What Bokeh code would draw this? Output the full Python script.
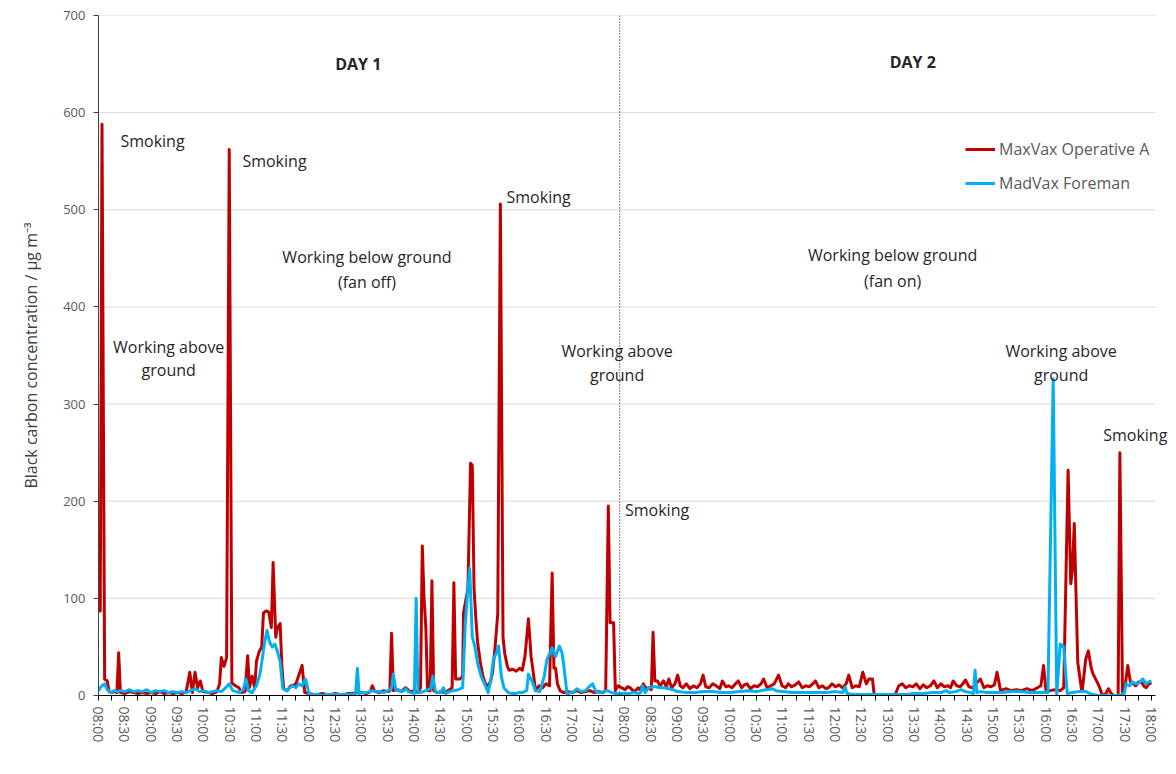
from bokeh.plotting import figure
from bokeh.models import Range1d, FixedTicker, Span, Label, Legend, LegendItem, ColumnDataSource
from bokeh.embed import file_html
from bokeh.resources import INLINE

# ---------------- data ----------------
# time ticks (every 30 minutes) for the two measurement days
day1_tick_labels = ["08:00", "08:30", "09:00", "09:30", "10:00", "10:30", "11:00", "11:30",
                    "12:00", "12:30", "13:00", "13:30", "14:00", "14:30", "15:00", "15:30",
                    "16:00", "16:30", "17:00", "17:30"]
day2_tick_labels = ["08:00", "08:30", "09:00", "09:30", "10:00", "10:30", "11:00", "11:30",
                    "12:00", "12:30", "13:00", "13:30", "14:00", "14:30", "15:00", "15:30",
                    "16:00", "16:30", "17:00", "17:30", "18:00"]
day2_offset = 600  # axis index (minutes) where day 2 begins
day_divider = 594
axis_end = 1204.5

# (minutes after 08:00, black carbon µg m-3)
operative_a_day1 = [
    (0, 87), (2, 87), (4, 588), (7, 17), (10, 15), (12, 4), (15, 3), (18, 4), (21, 3), (23, 44),
    (25, 3), (30, 2), (35, 4), (40, 3), (45, 2), (50, 3), (55, 2), (60, 3), (65, 2), (70, 4),
    (75, 2), (80, 3), (85, 2), (90, 3), (95, 2), (100, 4), (104, 24), (107, 3), (110, 24), (113, 8),
    (116, 15), (119, 4), (125, 3), (130, 2), (135, 4), (138, 12), (140, 39), (143, 30), (146, 39),
    (149, 562), (152, 13), (156, 10), (160, 8), (163, 3), (167, 4), (170, 41), (172, 8), (175, 20),
    (178, 8), (180, 35), (183, 45), (186, 50), (188, 85), (191, 87), (194, 86), (197, 70), (199, 137),
    (202, 60), (204, 70), (207, 74), (209, 30), (211, 7), (215, 5), (219, 10), (221, 10), (225, 12),
    (228, 20), (232, 31), (235, 3), (240, 2), (245, 1), (250, 1), (255, 2), (260, 1), (265, 1),
    (270, 2), (275, 1), (280, 1), (285, 2), (290, 2), (295, 3), (300, 3), (305, 2), (310, 4),
    (312, 10), (315, 4), (320, 3), (325, 5), (330, 4), (332, 5), (334, 64), (336, 5), (340, 6),
    (345, 4), (350, 8), (355, 4), (360, 5), (364, 3), (367, 8), (369, 154), (371, 100), (373, 71),
    (375, 5), (378, 5), (380, 118), (382, 5), (386, 3), (390, 4), (395, 3), (400, 6), (403, 8),
    (405, 116), (407, 17), (412, 17), (415, 20), (416, 85), (419, 100), (421, 110), (424, 239),
    (426, 237), (428, 110), (430, 80), (432, 55), (435, 35), (438, 20), (441, 12), (444, 10),
    (447, 15), (449, 23), (452, 50), (455, 84), (458, 506), (461, 60), (463, 43), (466, 30),
    (468, 26), (472, 27), (476, 25), (480, 28), (483, 26), (486, 40), (490, 79), (493, 40),
    (496, 20), (498, 5), (502, 10), (506, 8), (510, 12), (514, 10), (517, 126), (519, 28),
    (521, 28), (523, 12), (526, 5), (530, 3), (535, 4), (540, 3), (545, 5), (550, 3), (555, 4),
    (560, 5), (565, 3), (570, 4), (575, 3), (578, 5), (581, 195), (583, 75), (587, 75), (589, 5),
    (592, 10),
]
operative_a_day2 = [
    (0, 6), (3, 9), (6, 8), (9, 5), (12, 5), (15, 8), (17, 6), (21, 12), (24, 7), (27, 8), (30, 6),
    (32, 65), (34, 15), (37, 15), (40, 10), (44, 15), (47, 9), (50, 17), (53, 8), (57, 12), (60, 21),
    (63, 10), (66, 8), (70, 12), (74, 7), (78, 10), (82, 8), (86, 12), (89, 21), (92, 9), (96, 8),
    (100, 12), (104, 10), (108, 7), (111, 15), (115, 9), (118, 10), (122, 8), (126, 12), (129, 15),
    (133, 8), (136, 11), (139, 12), (143, 7), (147, 10), (151, 9), (155, 12), (158, 17), (162, 8),
    (166, 10), (170, 12), (175, 21), (179, 10), (183, 8), (186, 12), (190, 9), (194, 11), (198, 14),
    (202, 8), (206, 10), (210, 9), (214, 12), (217, 15), (221, 8), (225, 10), (229, 7), (232, 8),
    (236, 12), (240, 9), (244, 11), (248, 8), (252, 12), (255, 21), (259, 8), (263, 10), (267, 9),
    (271, 24), (275, 12), (278, 17), (282, 17), (284, 1), (290, 0), (296, 1), (302, 0), (308, 1),
    (312, 10), (316, 12), (320, 8), (324, 10), (328, 9), (332, 12), (336, 7), (340, 11), (344, 8),
    (348, 10), (352, 15), (356, 8), (360, 12), (364, 9), (368, 10), (371, 8), (374, 15), (378, 10),
    (382, 9), (385, 12), (388, 16), (392, 9), (396, 8), (400, 12), (405, 17), (409, 8), (413, 10),
    (417, 9), (421, 11), (424, 24), (428, 5), (434, 7), (440, 5), (446, 6), (452, 5), (458, 7),
    (464, 5), (470, 8), (474, 10), (477, 31), (480, 3), (484, 5), (490, 6), (496, 5), (500, 8),
    (505, 232), (508, 115), (510, 130), (512, 177), (516, 34), (520, 8), (521, 4), (525, 37),
    (528, 46), (531, 30), (533, 23), (538, 14), (541, 8), (544, 0), (548, 2), (551, 7), (554, 2),
    (557, 0), (562, 0), (564, 250), (567, 2), (570, 10), (573, 31), (576, 14), (579, 12), (582, 10),
    (585, 14), (589, 13), (592, 9), (594, 8), (597, 12), (600, 13),
]
foreman_day1 = [
    (0, 5), (2, 8), (4, 10), (7, 12), (10, 6), (14, 3), (18, 5), (22, 4), (26, 5), (30, 4), (35, 6),
    (40, 4), (45, 5), (50, 4), (55, 6), (60, 3), (65, 5), (70, 4), (75, 5), (80, 3), (85, 4), (90, 3),
    (95, 4), (100, 3), (105, 5), (110, 7), (115, 4), (120, 5), (125, 3), (130, 4), (135, 5), (140, 4),
    (145, 8), (149, 12), (153, 5), (157, 4), (160, 3), (165, 6), (168, 17), (171, 5), (175, 3),
    (180, 10), (184, 22), (187, 40), (189, 53), (192, 67), (195, 55), (198, 50), (201, 53), (204, 45),
    (207, 35), (210, 7), (215, 5), (218, 8), (221, 10), (225, 8), (228, 12), (232, 10), (236, 17),
    (240, 1), (245, 1), (250, 1), (255, 0), (260, 1), (265, 1), (270, 1), (275, 1), (280, 1), (285, 1),
    (290, 1), (293, 2), (295, 28), (297, 2), (301, 3), (305, 3), (309, 4), (312, 5), (316, 4),
    (320, 4), (325, 3), (330, 5), (334, 8), (336, 22), (339, 5), (342, 6), (345, 4), (348, 5),
    (350, 7), (353, 4), (356, 3), (360, 2), (362, 100), (364, 3), (367, 3), (370, 4), (373, 5),
    (376, 6), (379, 8), (381, 20), (384, 4), (387, 3), (390, 3), (393, 8), (396, 2), (400, 4),
    (405, 5), (410, 6), (415, 8), (418, 74), (421, 110), (423, 131), (426, 60), (429, 50), (432, 33),
    (436, 20), (441, 10), (444, 3), (447, 15), (450, 37), (454, 45), (456, 51), (459, 20), (462, 8),
    (467, 3), (471, 2), (475, 2), (479, 3), (483, 3), (488, 5), (490, 22), (494, 15), (498, 5),
    (503, 4), (508, 20), (511, 37), (515, 45), (517, 49), (521, 40), (525, 51), (528, 45), (530, 33),
    (534, 1), (538, 3), (542, 4), (545, 7), (550, 4), (555, 5), (558, 8), (563, 12), (567, 4),
    (572, 3), (576, 4), (580, 5), (585, 3), (589, 2), (592, 2),
]
foreman_day2 = [
    (0, 2), (5, 2), (10, 3), (15, 2), (18, 3), (20, 10), (23, 3), (27, 8), (31, 9), (35, 9), (40, 8),
    (45, 8), (50, 7), (55, 6), (60, 4), (70, 3), (80, 3), (90, 4), (100, 4), (110, 3), (120, 3),
    (130, 4), (140, 5), (150, 4), (160, 6), (164, 6), (168, 7), (172, 5), (180, 4), (190, 3),
    (200, 3), (210, 3), (220, 3), (230, 3), (240, 4), (248, 3), (251, 9), (253, 2), (260, 1),
    (270, 1), (280, 1), (290, 1), (300, 1), (310, 1), (320, 1), (330, 2), (340, 2), (350, 3),
    (360, 3), (366, 5), (370, 3), (377, 4), (383, 6), (388, 4), (394, 3), (397, 2), (399, 26),
    (401, 3), (406, 4), (412, 3), (420, 3), (430, 3), (440, 4), (450, 4), (460, 3), (470, 3),
    (478, 3), (482, 3), (488, 326), (492, 1), (496, 53), (500, 50), (504, 2), (510, 3), (517, 4),
    (525, 4), (533, 1), (540, 0), (550, 0), (560, 0), (566, 1), (569, 2), (571, 12), (575, 10),
    (578, 14), (582, 12), (586, 13), (590, 17), (594, 12), (597, 14), (600, 15),
]

y_ticks = [0, 100, 200, 300, 400, 500, 600, 700]


def series(day1, day2):
    xs = [t for t, _ in day1] + [t + day2_offset for t, _ in day2]
    ys = [v for _, v in day1] + [v for _, v in day2]
    return ColumnDataSource(dict(x=xs, y=ys))


FONT = "Open Sans"
RED = "#C00000"
BLUE = "#00B0F0"
TXT = "#262626"
GREY = "#595959"

p = figure(width=1168, height=766, x_range=Range1d(0, 1219.4), y_range=Range1d(0, 700),
           output_backend="svg", toolbar_location=None,
           min_border_left=98, min_border_right=0, min_border_top=15, min_border_bottom=71)
p.outline_line_color = None
p.background_fill_color = "white"
p.border_fill_color = "white"

# horizontal gridlines limited to the time axis extent
p.segment(x0=[0] * len(y_ticks), x1=[axis_end] * len(y_ticks), y0=y_ticks, y1=y_ticks,
          line_color="#d9d9d9", line_width=1)

r_red = p.line("x", "y", source=series(operative_a_day1, operative_a_day2),
               line_color=RED, line_width=3, line_join="round")
r_blue = p.line("x", "y", source=series(foreman_day1, foreman_day2),
                line_color=BLUE, line_width=3, line_join="round")

# x axis ticks
tick_labels = day1_tick_labels + day2_tick_labels
major = [30 * i for i in range(len(day1_tick_labels))] + \
        [day2_offset + 30 * i for i in range(len(day2_tick_labels))]
minor = [m + 15 for m in major[:-1]]
p.xaxis.ticker = FixedTicker(ticks=major, minor_ticks=minor)
p.xaxis.bounds = (0, axis_end)
p.xaxis.major_label_overrides = {m: lab for m, lab in zip(major, tick_labels)}
p.xaxis.major_label_orientation = "vertical"
p.xaxis.major_label_text_font = FONT
p.xaxis.major_label_text_font_size = "14px"
p.xaxis.major_label_text_color = GREY
p.xaxis.axis_line_color = "black"
p.xaxis.major_tick_line_color = "black"
p.xaxis.minor_tick_line_color = "black"
p.xaxis.major_tick_in = 0
p.xaxis.major_tick_out = 5
p.xaxis.minor_tick_in = 0
p.xaxis.minor_tick_out = 5
p.xaxis.major_label_standoff = 6

p.yaxis.ticker = FixedTicker(ticks=y_ticks)
p.yaxis.major_label_text_font = FONT
p.yaxis.major_label_text_font_size = "13px"
p.yaxis.major_label_text_color = GREY
p.yaxis.axis_line_color = "#404040"
p.yaxis.major_tick_line_color = "#404040"
p.yaxis.major_tick_in = 0
p.yaxis.major_tick_out = 5
p.yaxis.minor_tick_line_color = None
p.yaxis.major_label_standoff = 8
p.yaxis.axis_label = "Black carbon concentration / µg m⁻³"
p.yaxis.axis_label_text_font = FONT
p.yaxis.axis_label_text_font_size = "16px"
p.yaxis.axis_label_text_font_style = "normal"
p.yaxis.axis_label_text_color = "#404040"
p.yaxis.axis_label_standoff = 18

p.xgrid.visible = False
p.ygrid.visible = False

p.add_layout(Span(location=day_divider, dimension="height", line_color="black",
                  line_dash="1 2", line_width=1))

annotations = [
    ("DAY 1", 296, 650, "center", "bold"),
    ("DAY 2", 928, 652, "center", "bold"),
    ("Smoking", 25, 571, "left", "normal"),
    ("Smoking", 164, 550, "left", "normal"),
    ("Smoking", 465, 513, "left", "normal"),
    ("Smoking", 1145, 268, "left", "normal"),
    ("Smoking", 600, 191, "left", "normal"),
    ("Working below ground", 306, 451, "center", "normal"),
    ("(fan off)", 306, 426, "center", "normal"),
    ("Working below ground", 905, 453, "center", "normal"),
    ("(fan on)", 905, 427, "center", "normal"),
    ("Working above", 80, 359, "center", "normal"),
    ("ground", 80, 335, "center", "normal"),
    ("Working above", 591, 355, "center", "normal"),
    ("ground", 591, 330, "center", "normal"),
    ("Working above", 1097, 355, "center", "normal"),
    ("ground", 1097, 330, "center", "normal"),
]
for text, ax, ay, align, style in annotations:
    p.add_layout(Label(x=ax, y=ay, text=text, text_font=FONT, text_font_size="16px",
                       text_color=TXT, text_align=align, text_baseline="middle",
                       text_font_style=style))

legend = Legend(items=[LegendItem(label="MaxVax Operative A", renderers=[r_red]),
                       LegendItem(label="MadVax Foreman", renderers=[r_blue])],
                location=(867, 501), padding=0, margin=0, spacing=12,
                glyph_width=30, glyph_height=20, label_height=20, label_standoff=4,
                label_text_font=FONT, label_text_font_size="16px", label_text_color=GREY,
                border_line_color=None, background_fill_alpha=0)
p.add_layout(legend)

open("out.html", "w").write(file_html(p, INLINE))
